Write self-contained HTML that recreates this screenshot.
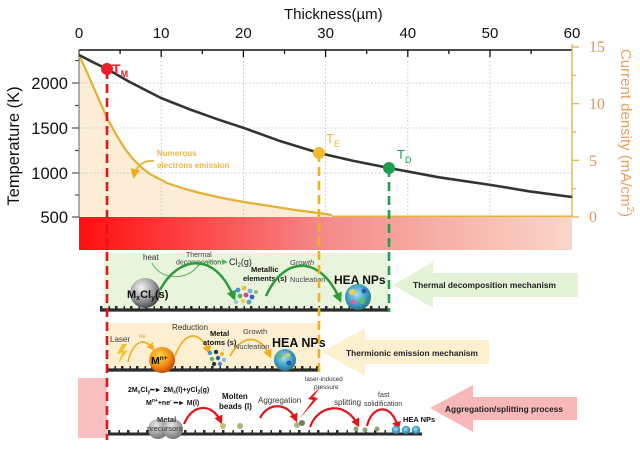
<!DOCTYPE html>
<html><head><meta charset="utf-8"><style>
html,body{margin:0;padding:0;background:#fff;}
svg{display:block;}
text{font-family:"Liberation Sans",sans-serif;}
</style></head><body>
<svg width="640" height="452" viewBox="0 0 640 452" xmlns="http://www.w3.org/2000/svg">
<defs>
<linearGradient id="bar" x1="0" y1="0" x2="1" y2="0">
<stop offset="0" stop-color="#ff0f0f"/>
<stop offset="0.3" stop-color="#fb5656"/>
<stop offset="0.5" stop-color="#f58a8a"/>
<stop offset="0.75" stop-color="#f6b3a8"/>
<stop offset="1" stop-color="#f8d6c8"/>
</linearGradient>
<radialGradient id="gs" cx="0.38" cy="0.32" r="0.7">
<stop offset="0" stop-color="#f4f4f4"/><stop offset="0.6" stop-color="#9a9a9a"/><stop offset="1" stop-color="#4a4a4a"/>
</radialGradient>
<radialGradient id="os" cx="0.4" cy="0.35" r="0.7">
<stop offset="0" stop-color="#ffd84a"/><stop offset="0.6" stop-color="#f08a10"/><stop offset="1" stop-color="#c03a10"/>
</radialGradient>
<radialGradient id="np" cx="0.45" cy="0.4" r="0.65">
<stop offset="0" stop-color="#a8e0e8"/><stop offset="0.6" stop-color="#3c9ac8"/><stop offset="1" stop-color="#2a6a70"/>
</radialGradient>
<radialGradient id="dome" cx="0.4" cy="0.3" r="0.7">
<stop offset="0" stop-color="#e8e8e8"/><stop offset="1" stop-color="#777"/>
</radialGradient>
<marker id="mg" viewBox="0 0 10 10" refX="7" refY="5" markerWidth="4" markerHeight="4" orient="auto"><path d="M0,0 L10,5 L0,10 z" fill="#2e9a3a"/></marker>
<marker id="mg2" viewBox="0 0 10 10" refX="7" refY="5" markerWidth="6" markerHeight="6" orient="auto"><path d="M0,0 L10,5 L0,10 z" fill="#5cb85c"/></marker>
<marker id="my" viewBox="0 0 10 10" refX="7" refY="5" markerWidth="5" markerHeight="5" orient="auto"><path d="M0,0 L10,5 L0,10 z" fill="#efb020"/></marker>
<marker id="mr" viewBox="0 0 10 10" refX="7" refY="5" markerWidth="4" markerHeight="4" orient="auto"><path d="M0,0 L10,5 L0,10 z" fill="#e0161c"/></marker>
</defs>

<!-- beige fill under current density -->
<path d="M79,55 L86,70 L93,86 L100,102 L107,118 L117,136 L125,149 L133,159 L142,168 L150,174 L167,183 L185,189 L200,193 L222,198 L244,202 L270,206 L295,210 L319,213 L332,215 L332,217 L79,217 Z" fill="#fbedd6"/>

<!-- grid -->
<g stroke="#b8b8b8" stroke-width="0.8" stroke-dasharray="1.5 2.2">
<line x1="161.2" y1="50" x2="161.2" y2="217"/>
<line x1="243.4" y1="50" x2="243.4" y2="217"/>
<line x1="325.6" y1="50" x2="325.6" y2="217"/>
<line x1="407.8" y1="50" x2="407.8" y2="217"/>
<line x1="490" y1="50" x2="490" y2="217"/>
<line x1="79" y1="83" x2="572" y2="83"/>
<line x1="79" y1="128" x2="572" y2="128"/>
<line x1="79" y1="173" x2="572" y2="173"/>
</g>

<!-- gradient bar -->
<rect x="79" y="217" width="493" height="33" fill="url(#bar)"/>

<!-- axes -->
<line x1="79" y1="50" x2="572" y2="50" stroke="#111" stroke-width="1.6"/>
<g stroke="#111" stroke-width="1.3">
<line x1="79" y1="50" x2="79" y2="57"/><line x1="161.2" y1="50" x2="161.2" y2="57"/><line x1="243.4" y1="50" x2="243.4" y2="57"/><line x1="325.6" y1="50" x2="325.6" y2="57"/><line x1="407.8" y1="50" x2="407.8" y2="57"/><line x1="490" y1="50" x2="490" y2="57"/>
<line x1="120.1" y1="50" x2="120.1" y2="54"/><line x1="202.3" y1="50" x2="202.3" y2="54"/><line x1="284.5" y1="50" x2="284.5" y2="54"/><line x1="366.7" y1="50" x2="366.7" y2="54"/><line x1="448.9" y1="50" x2="448.9" y2="54"/><line x1="531.1" y1="50" x2="531.1" y2="54"/>
</g>
<line x1="79" y1="50" x2="79" y2="217" stroke="#666" stroke-width="1"/>
<g stroke="#555" stroke-width="1.2">
<line x1="72" y1="83" x2="79" y2="83"/><line x1="72" y1="128" x2="79" y2="128"/><line x1="72" y1="173" x2="79" y2="173"/><line x1="72" y1="217" x2="79" y2="217"/>
<line x1="75" y1="60.5" x2="79" y2="60.5"/><line x1="75" y1="105.5" x2="79" y2="105.5"/><line x1="75" y1="150.5" x2="79" y2="150.5"/><line x1="75" y1="195" x2="79" y2="195"/>
</g>
<line x1="572" y1="44" x2="572" y2="217" stroke="#d9b04a" stroke-width="1.3"/>
<g stroke="#d9b04a" stroke-width="1.2">
<line x1="572" y1="217" x2="579" y2="217"/><line x1="572" y1="160.3" x2="579" y2="160.3"/><line x1="572" y1="103.7" x2="579" y2="103.7"/><line x1="572" y1="47" x2="579" y2="47"/>
<line x1="572" y1="188.7" x2="576" y2="188.7"/><line x1="572" y1="132" x2="576" y2="132"/><line x1="572" y1="75.3" x2="576" y2="75.3"/>
</g>

<!-- axis labels -->
<g font-size="15" fill="#111" text-anchor="middle">
<text x="79" y="38">0</text><text x="161.2" y="38">10</text><text x="243.4" y="38">20</text><text x="325.6" y="38">30</text><text x="407.8" y="38">40</text><text x="490" y="38">50</text><text x="572" y="38">60</text>
</g>
<text x="284" y="19" font-size="15" fill="#111">Thickness(µm)</text>
<g font-size="16.5" fill="#111" text-anchor="end">
<text x="68" y="89">2000</text><text x="68" y="134">1500</text><text x="68" y="179">1000</text><text x="68" y="223">500</text>
</g>
<text transform="translate(19,146) rotate(-90)" font-size="16.5" fill="#111" text-anchor="middle">Temperature (K)</text>
<g font-size="16" fill="#e0935a">
<text x="589" y="222" style="font-family:'Liberation Serif',serif">0</text>
<text x="589" y="166" style="font-family:'Liberation Serif',serif">5</text>
<text x="589" y="109" style="font-family:'Liberation Serif',serif">10</text>
<text x="589" y="52" style="font-family:'Liberation Serif',serif">15</text>
</g>
<text transform="translate(621,133) rotate(90)" font-size="15" fill="#e8a060" text-anchor="middle">Current density (mA/cm<tspan font-size="10" dy="-6">2</tspan><tspan dy="6">)</tspan></text>

<!-- curves -->
<line x1="332" y1="216.3" x2="572" y2="216.3" stroke="#e6b33a" stroke-width="1.5"/>
<polyline fill="none" stroke="#e4b035" stroke-width="2.2" points="79,55 86,70 93,86 100,102 107,118 117,136 125,149 133,159 142,168 150,174 167,183 185,189 200,193 222,198 244,202 270,206 295,210 319,213 332,215"/>
<polyline fill="none" stroke="#333" stroke-width="2.6" stroke-linejoin="round" points="79,55 93,62.2 107,69 129,81.6 161,98 189,109.1 219,119.8 244,128 279,140.7 319,153 354,161 389,168 439,177.3 491,185 529,191.3 572,197"/>

<!-- numerous electrons -->
<text x="157" y="156" font-size="8" font-weight="bold" fill="#e6b84a">Numerous</text>
<text x="157" y="168" font-size="8" font-weight="bold" fill="#e6b84a">electrons emission</text>
<path d="M154,161 C143,160 136,166 134,176" fill="none" stroke="#e6b84a" stroke-width="2" marker-end="url(#my)"/>

<!-- lower panels -->
<rect x="104" y="253" width="285" height="58" fill="#e8f4dc"/>
<rect x="105" y="323" width="215" height="48" fill="#fdf0d2"/>
<rect x="78" y="378" width="29" height="60" fill="#f9c0c2"/>

<!-- big arrows -->
<polygon points="393,285 433,262 433,273 578,273 578,297 433,297 433,308" fill="#e4f2d6"/>
<text x="413" y="288" font-size="8.6" font-weight="bold" fill="#222" textLength="143" lengthAdjust="spacingAndGlyphs">Thermal decomposition mechanism</text>
<polygon points="322,352 365,328 365,340 489,340 489,364 365,364 365,376" fill="#fdf0d0"/>
<text x="346" y="356" font-size="8.6" font-weight="bold" fill="#222" textLength="132" lengthAdjust="spacingAndGlyphs">Thermionic emission mechanism</text>
<polygon points="430,408 473,385 473,397 577,397 577,420 473,420 473,432" fill="#f8b8b8"/>
<text x="445" y="412" font-size="8.6" font-weight="bold" fill="#222" textLength="118" lengthAdjust="spacingAndGlyphs">Aggregation/splitting process</text>

<!-- grounds -->
<g stroke="#2a2a2a">
<line x1="100" y1="310" x2="389" y2="310" stroke-width="3.2"/>
<line x1="100" y1="307.5" x2="389" y2="307.5" stroke-width="3" stroke-dasharray="2.5 6 1.5 5"/>
<line x1="106" y1="370" x2="320" y2="370" stroke-width="3.2"/>
<line x1="106" y1="367.5" x2="320" y2="367.5" stroke-width="3" stroke-dasharray="2.5 6 1.5 5"/>
<line x1="108" y1="434" x2="422" y2="434" stroke-width="3"/>
<line x1="108" y1="431.5" x2="422" y2="431.5" stroke-width="3" stroke-dasharray="2.5 8 1.5 7"/>
</g>

<!-- thermal decomposition panel content -->
<text x="143" y="260" font-size="8" fill="#333">heat</text>
<text x="186" y="257" font-size="7" fill="#444">Thermal</text>
<text x="176" y="264.5" font-size="7" fill="#444">decomposition</text>
<text x="229" y="265" font-size="9" fill="#222">Cl<tspan font-size="6" dy="2">2</tspan><tspan dy="-2">(g)</tspan></text>
<path d="M152,263 C160,280 185,280 195,269 C205,258 215,262 226,262" fill="none" stroke="#5cb85c" stroke-width="1" marker-end="url(#mg2)"/>
<path d="M160,290 C178,256 215,250 234,298" fill="none" stroke="#2e9a3a" stroke-width="2.5" marker-end="url(#mg)"/>
<circle cx="145" cy="293" r="15" fill="url(#gs)"/>
<text x="127" y="298" font-size="11" font-weight="bold" fill="#111">M<tspan font-size="7" dy="2">x</tspan><tspan dy="-2">Cl</tspan><tspan font-size="7" dy="2">y</tspan><tspan dy="-2">(s)</tspan></text>
<text x="251" y="272" font-size="7.5" font-weight="bold" fill="#111">Metallic</text>
<text x="243" y="281" font-size="7.5" font-weight="bold" fill="#111">elements (s)</text>
<g>
<circle cx="238" cy="290" r="2.4" fill="#4a90d0"/><circle cx="244" cy="288" r="2.4" fill="#f0c030"/><circle cx="250" cy="291" r="2.4" fill="#7ab0e0"/>
<circle cx="240" cy="296" r="2.4" fill="#60b060"/><circle cx="246" cy="295" r="2.4" fill="#d040a0"/><circle cx="252" cy="297" r="2.4" fill="#4060c0"/>
<circle cx="243" cy="301" r="2.4" fill="#f0d050"/><circle cx="249" cy="302" r="2.4" fill="#50a0d0"/><circle cx="236" cy="302" r="2.2" fill="#a0c0e0"/>
<circle cx="256" cy="292" r="2" fill="#80c080"/>
</g>
<path d="M266,296 C284,256 320,254 340,300" fill="none" stroke="#2e9a3a" stroke-width="2.5" marker-end="url(#mg)"/>
<text x="290" y="265" font-size="7.5" font-style="italic" fill="#444">Growth</text>
<text x="290" y="282" font-size="7.5" fill="#444">Nucleation</text>
<text x="334" y="284" font-size="12" font-weight="bold" fill="#111">HEA NPs</text>
<circle cx="358" cy="297" r="13" fill="url(#np)"/>
<circle cx="352" cy="292" r="3" fill="#f0d040"/><circle cx="362" cy="301" r="3" fill="#60c060"/><circle cx="364" cy="291" r="2.5" fill="#2060b0"/><circle cx="353" cy="302" r="2.5" fill="#e060a0"/>

<!-- thermionic panel content -->
<text x="110" y="342" font-size="8" fill="#333">Laser</text>
<path d="M122,344 L117,354 L122,353 L118,364 L128,350 L123,351 L127,344 Z" fill="#f2c630"/>
<text x="139" y="338" font-size="6" fill="#e0a020">ne</text>
<path d="M128,362 C132,345 142,334 153,349" fill="none" stroke="#efb020" stroke-width="1.6" marker-end="url(#my)"/>
<circle cx="162" cy="360" r="13" fill="url(#os)"/>
<text x="151" y="364" font-size="10.5" font-weight="bold" fill="#111">M<tspan font-size="6.5" dy="-4">n+</tspan></text>
<text x="172" y="330" font-size="8" fill="#333">Reduction</text>
<path d="M175,356 C185,330 200,330 209,352" fill="none" stroke="#efb020" stroke-width="1.8" marker-end="url(#my)"/>
<text x="210" y="336" font-size="7.5" font-weight="bold" fill="#111">Metal</text>
<text x="203" y="345" font-size="7.5" font-weight="bold" fill="#111">atoms (s)</text>
<g>
<circle cx="210" cy="353" r="2.2" fill="#4a90d0"/><circle cx="216" cy="352" r="2.2" fill="#333"/><circle cx="222" cy="354" r="2.2" fill="#f0c030"/>
<circle cx="212" cy="359" r="2.2" fill="#60b060"/><circle cx="218" cy="358" r="2.2" fill="#2060b0"/><circle cx="224" cy="360" r="2.2" fill="#80c0e0"/>
<circle cx="214" cy="364" r="2.2" fill="#333"/><circle cx="220" cy="364" r="2.2" fill="#4a90d0"/>
</g>
<path d="M230,356 C242,334 260,334 270,356" fill="none" stroke="#efb020" stroke-width="1.8" marker-end="url(#my)"/>
<text x="243" y="334" font-size="7.5" fill="#444">Growth</text>
<text x="234" y="349" font-size="7.5" fill="#444">Nucleation</text>
<text x="272" y="347" font-size="12.5" font-weight="bold" fill="#111">HEA NPs</text>
<circle cx="285" cy="360" r="11" fill="url(#np)"/>
<circle cx="280" cy="356" r="2.5" fill="#60c060"/><circle cx="289" cy="363" r="2.5" fill="#2060b0"/><circle cx="288" cy="355" r="2" fill="#f0d040"/>

<!-- aggregation panel content -->
<text x="128" y="392" font-size="7" font-weight="bold" fill="#111">2M<tspan font-size="5" dy="1.5">x</tspan><tspan dy="-1.5">Cl</tspan><tspan font-size="5" dy="1.5">y</tspan><tspan dy="-1.5">━► 2M</tspan><tspan font-size="5" dy="1.5">x</tspan><tspan dy="-1.5">(l)+yCl</tspan><tspan font-size="5" dy="1.5">2</tspan><tspan dy="-1.5">(g)</tspan></text>
<text x="146" y="405" font-size="7" font-weight="bold" fill="#111">M<tspan font-size="5" dy="-3">n+</tspan><tspan dy="3">+ne</tspan><tspan font-size="5" dy="-3">-</tspan><tspan dy="3"> ━► M(l)</tspan></text>
<text x="222" y="399" font-size="8" font-weight="bold" fill="#111">Molten</text>
<text x="219" y="409" font-size="8" font-weight="bold" fill="#111">beads (l)</text>
<circle cx="158" cy="429" r="10" fill="url(#dome)"/>
<circle cx="173" cy="429" r="10" fill="url(#dome)"/>
<text x="157" y="422" font-size="7.5" font-weight="bold" fill="#333">Metal</text>
<text x="147" y="431" font-size="7.5" fill="#333">precursors</text>
<path d="M184,424 C192,404 212,402 221,422" fill="none" stroke="#e0161c" stroke-width="2.2" marker-end="url(#mr)"/>
<path d="M260,418 C268,402 288,402 296,420" fill="none" stroke="#e0161c" stroke-width="2.2" marker-end="url(#mr)"/>
<path d="M310,427 C318,405 345,400 358,425" fill="none" stroke="#e0161c" stroke-width="2.2" marker-end="url(#mr)"/>
<path d="M367,426 C372,405 392,402 398,428" fill="none" stroke="#e0161c" stroke-width="2.2" marker-end="url(#mr)"/>
<path d="M322,385 L308,399 L313,400 L300,418 L318,398 L313,397 Z" fill="#e8161c"/>
<text x="258" y="403" font-size="8" fill="#333">Aggregation</text>
<text x="305" y="381" font-size="6.3" fill="#333">laser-induced</text>
<text x="314" y="389" font-size="6.3" fill="#333">pressure</text>
<text x="334" y="405" font-size="8" fill="#333">splitting</text>
<text x="378" y="397" font-size="7" fill="#333">fast</text>
<text x="364" y="406" font-size="7" fill="#333">solidification</text>
<text x="403" y="422" font-size="7.5" font-weight="bold" fill="#111">HEA NPs</text>
<g>
<circle cx="223" cy="426" r="3" fill="#c8c070"/><circle cx="240" cy="426" r="3" fill="#a8b870"/>
<circle cx="297" cy="425" r="3" fill="#b0b080"/><circle cx="302" cy="423" r="3" fill="#708060"/>
<circle cx="356" cy="429" r="2.5" fill="#90a070"/><circle cx="365" cy="430" r="2.5" fill="#90a070"/><circle cx="377" cy="429" r="2.5" fill="#90a070"/>
<circle cx="396" cy="430" r="4.2" fill="url(#np)"/><circle cx="406" cy="430" r="4.2" fill="url(#np)"/><circle cx="416" cy="430" r="4.2" fill="url(#np)"/>
</g>

<!-- dashed verticals -->
<line x1="107" y1="70" x2="107" y2="440" stroke="#e0161c" stroke-width="2.6" stroke-dasharray="9 5"/>
<line x1="319" y1="153" x2="319" y2="372" stroke="#f0b020" stroke-width="2.6" stroke-dasharray="9 5"/>
<line x1="389" y1="168" x2="389" y2="312" stroke="#1fa050" stroke-width="2.6" stroke-dasharray="9 5"/>

<!-- markers -->
<circle cx="107" cy="69" r="6" fill="#e8202a"/>
<text x="112" y="74" font-size="14" font-weight="bold" fill="#e8202a">T<tspan font-size="9" dy="3">M</tspan></text>
<circle cx="319" cy="153" r="6" fill="#f2b830"/>
<text x="326" y="143" font-size="13" fill="#f2b830">T<tspan font-size="9" dy="4">E</tspan></text>
<circle cx="389" cy="168" r="6" fill="#1a9e50"/>
<text x="397" y="159" font-size="13" fill="#1a9e50">T<tspan font-size="9" dy="4">D</tspan></text>
</svg>
</body></html>
